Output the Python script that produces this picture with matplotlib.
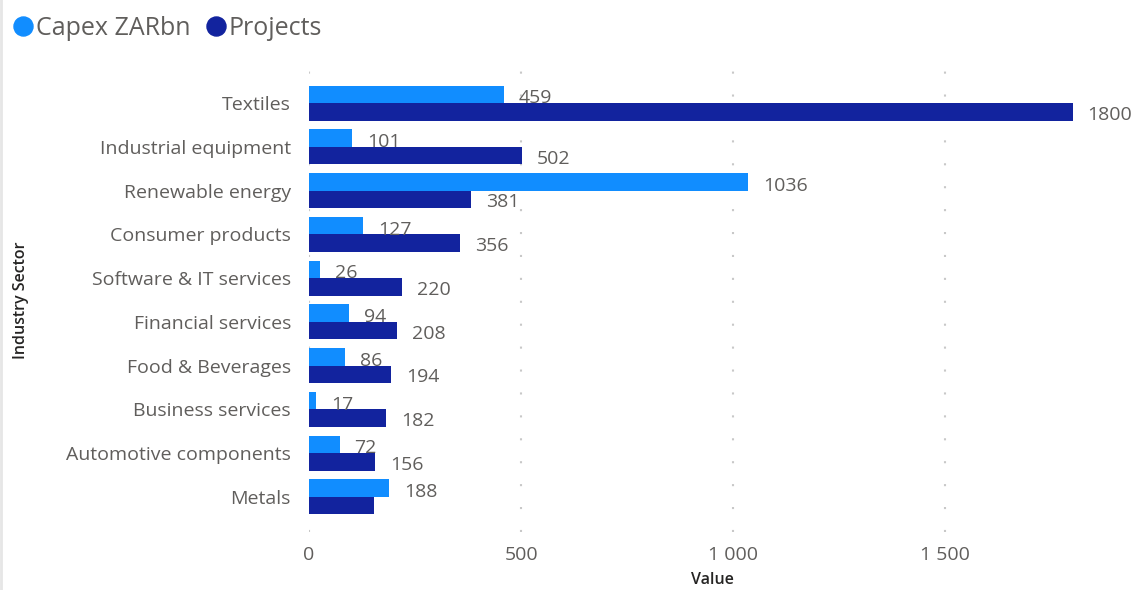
import matplotlib
matplotlib.use("Agg")
import matplotlib.pyplot as plt
from matplotlib.lines import Line2D
from matplotlib.ticker import FuncFormatter
import numpy as np

sectors = ["Textiles", "Industrial equipment", "Renewable energy", "Consumer products",
           "Software & IT services", "Financial services", "Food & Beverages",
           "Business services", "Automotive components", "Metals"]
capex = [459, 101, 1036, 127, 26, 94, 86, 17, 72, 188]
projects = [1800, 502, 381, 356, 220, 208, 194, 182, 156, 153]
projects_labelled = [True] * 9 + [False]
x_ticks = [0, 500, 1000, 1500]

series_names = ["Capex ZARbn", "Projects"]
colors = ["#118DFF", "#12239E"]
text_color = "#605E5C"
title_color = "#252423"

plt.rcParams["font.family"] = ["Open Sans", "DejaVu Sans"]

W, H = 1133, 590
fig = plt.figure(figsize=(W / 100, H / 100), dpi=100)
ax = fig.add_axes([309 / W, 1 - 532 / H, (1115 - 309) / W, (532 - 68) / H])

y = np.arange(len(sectors))
h = 0.4
ax.barh(y - h / 2, capex, height=h, color=colors[0], zorder=3)
ax.barh(y + h / 2, projects, height=h, color=colors[1], zorder=3)

for yi, v in zip(y, capex):
    ax.annotate(f"{v}", (v, yi - h / 2), xytext=(15, -4), textcoords="offset pixels",
                ha="left", va="center", fontsize=14, color=text_color, zorder=4)
for yi, v, show in zip(y, projects, projects_labelled):
    if show:
        ax.annotate(f"{v}", (v, yi + h / 2), xytext=(15, -3), textcoords="offset pixels",
                    ha="left", va="center", fontsize=14, color=text_color, zorder=4)

ax.set_xlim(0, 1900)
ax.set_ylim(9.8, -0.8)
ax.set_yticks(y)
ax.set_yticklabels(sectors)
ax.set_xticks(x_ticks)
ax.xaxis.set_major_formatter(FuncFormatter(lambda v, p: f"{int(v):,}".replace(",", " ")))
ax.tick_params(axis="both", length=0, labelsize=14, labelcolor=text_color)
ax.tick_params(axis="y", pad=13)
ax.tick_params(axis="x", pad=10)

ax.grid(axis="x", color="#C8C8C8", linestyle=(0, (1, 10)), linewidth=1.5, zorder=0)
for s in ax.spines.values():
    s.set_visible(False)

ax.set_xlabel("Value", fontsize=11.5, fontweight="semibold", color=title_color, labelpad=6)
ax.set_ylabel("Industry Sector", fontsize=11.5, fontweight="semibold", color=title_color)
ax.yaxis.set_label_coords(-(309 - 29) / (1115 - 309), 0.5)

handles = [Line2D([], [], marker="o", linestyle="", markersize=13.7, color=c) for c in colors]
fig.legend(handles, series_names, loc="upper left", bbox_to_anchor=(-2 / W, 1 - 6 / H),
           ncol=2, frameon=False, fontsize=18, labelcolor=text_color, handletextpad=-0.1,
           columnspacing=0.45, handlelength=1.2, borderaxespad=0)

fig.add_artist(Line2D([1 / W, 1 / W], [0, 1], color="#E6E6E6", linewidth=2,
                      transform=fig.transFigure))

fig.savefig("out.png", dpi=100)
